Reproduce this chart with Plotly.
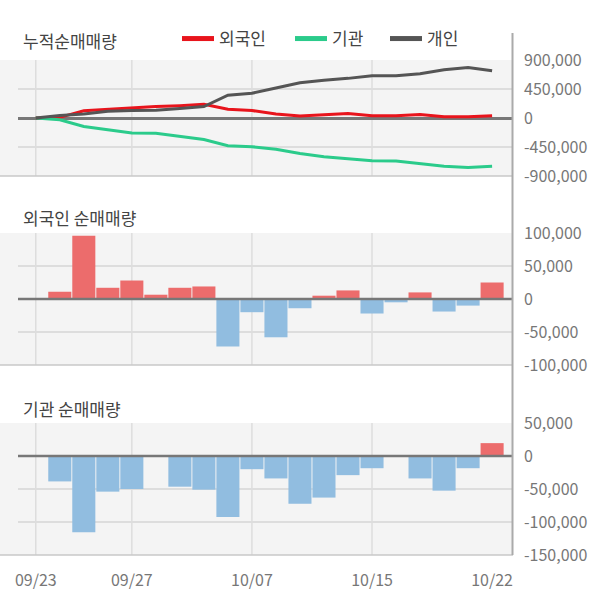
import plotly.graph_objects as go

# ---------------- data ----------------
dates = ['09/23', '09/24', '09/25', '09/26', '09/27', '09/30', '10/01', '10/02', '10/04', '10/07',
         '10/08', '10/10', '10/11', '10/14', '10/15', '10/16', '10/17', '10/18', '10/21', '10/22']

cum_foreign = [0, 10000, 111000, 136000, 162000, 177000, 192000, 212000, 136000, 116000,
               61000, 30000, 50000, 71000, 35000, 35000, 56000, 20000, 20000, 35000]
cum_inst = [0, -28000, -131000, -187000, -233000, -238000, -283000, -334000, -430000, -445000,
            -485000, -551000, -602000, -637000, -662000, -667000, -708000, -748000, -768000, -748000]
cum_indiv = [0, 40000, 61000, 106000, 116000, 121000, 147000, 177000, 354000, 384000,
             465000, 546000, 585000, 615000, 657000, 657000, 688000, 748000, 784000, 733000]

foreign_net = [0, 11000, 96000, 17000, 28000, 6500, 17000, 19000, -72000, -20000,
               -58000, -14000, 5000, 13000, -22000, -5000, 10000, -19000, -10000, 25000]
inst_net = [0, -38500, -115500, -54000, -50000, 0, -46500, -51000, -92500, -20000,
            -34000, -72500, -63000, -29000, -18500, 0, -34000, -52500, -18500, 19500]

series_names = ['외국인', '기관', '개인']
titles = ['누적순매매량', '외국인 순매매량', '기관 순매매량']

x_tick_labels = ['09/23', '09/27', '10/07', '10/15', '10/22']
x_grid_dates = ['09/23', '09/27', '10/07', '10/15']

y1_ticks = [-900000, -450000, 0, 450000, 900000]
y1_text = ['-900,000', '-450,000', '0', '450,000', '900,000']
y2_ticks = [-100000, -50000, 0, 50000, 100000]
y2_text = ['-100,000', '-50,000', '0', '50,000', '100,000']
y3_ticks = [-150000, -100000, -50000, 0, 50000]
y3_text = ['-150,000', '-100,000', '-50,000', '0', '50,000']

# ---------------- styles ----------------
FONT = 'Noto Sans CJK KR'
RED = '#e8141c'
GREEN = '#2bcb8b'
DARK = '#555555'
BAR_POS = '#ec6c6c'
BAR_NEG = '#91bde0'
BG = '#f4f4f4'
GRID = '#dddddd'
H = 604.0
W = 600.0

def py(p):
    return 1 - p / H

dom1 = [py(176), py(60)]
dom2 = [py(365), py(233)]
dom3 = [py(555), py(423)]
xdom = [18 / W, 513 / W]
xrange = [-0.74, 19.87]

fig = go.Figure()

line_colors = [RED, GREEN, DARK]
legend_ids = ['legend', 'legend2', 'legend3']
legend_x = [177, 290, 385]

for name, vals, col in zip(series_names, [cum_foreign, cum_inst, cum_indiv], line_colors):
    fig.add_trace(go.Scatter(x=dates, y=vals, mode='lines', name=name,
                             line=dict(color=col, width=3), showlegend=False,
                             xaxis='x', yaxis='y'))
# legend entries (thicker swatches)
for name, col, lg in zip(series_names, line_colors, legend_ids):
    fig.add_trace(go.Scatter(x=[None], y=[None], mode='lines', name=name,
                             line=dict(color=col, width=5), showlegend=True, legend=lg,
                             xaxis='x', yaxis='y'))

fig.add_trace(go.Bar(x=dates, y=foreign_net, xaxis='x2', yaxis='y2', showlegend=False,
                     marker=dict(color=[BAR_POS if v >= 0 else BAR_NEG for v in foreign_net],
                                 line=dict(width=0))))
fig.add_trace(go.Bar(x=dates, y=inst_net, xaxis='x3', yaxis='y3', showlegend=False,
                     marker=dict(color=[BAR_POS if v >= 0 else BAR_NEG for v in inst_net],
                                 line=dict(width=0))))

def xaxis_cfg(anchor, show_labels):
    d = dict(domain=xdom, anchor=anchor, type='category', categoryorder='array',
             categoryarray=dates, range=xrange, showgrid=False, zeroline=False,
             showline=False, ticks='', fixedrange=True, automargin=False)
    if show_labels:
        d.update(tickmode='array', tickvals=x_tick_labels, ticktext=x_tick_labels,
                 tickfont=dict(family=FONT, size=16, color='#777777'),
                 ticklabelstandoff=14, showticklabels=True)
    else:
        d.update(showticklabels=False)
    return d

def yaxis_cfg(anchor, dom, rng, tv, tt, zl):
    return dict(domain=dom, anchor=anchor, side='right', range=rng,
                tickmode='array', tickvals=tv, ticktext=tt,
                tickfont=dict(family=FONT, size=16, color='#777777'),
                showgrid=True, gridcolor=GRID, gridwidth=1.5,
                zeroline=zl, zerolinecolor='#777777', zerolinewidth=2.5,
                showline=False, ticks='', ticklabelstandoff=10, fixedrange=True,
                automargin=False)

shapes = []
for dom, xr, yr in [(dom1, 'x', 'y'), (dom2, 'x2', 'y2'), (dom3, 'x3', 'y3')]:
    shapes.append(dict(type='rect', xref='paper', yref='paper', x0=0, x1=xdom[0],
                       y0=dom[0], y1=dom[1], fillcolor=BG, line=dict(width=0), layer='below'))
    for d in x_grid_dates:
        shapes.append(dict(type='line', xref=xr, yref=yr + ' domain', x0=d, x1=d, y0=0, y1=1,
                           line=dict(color=GRID, width=1.5), layer='below'))
    shapes.append(dict(type='line', xref='paper', yref='paper', x0=0, x1=xdom[1],
                       y0=dom[0], y1=dom[0], line=dict(color='#c8c8c8', width=1.5), layer='above'))
# zero lines over bars
for xr, yr in [('x2', 'y2'), ('x3', 'y3')]:
    shapes.append(dict(type='line', xref=xr + ' domain', yref=yr, x0=0, x1=1, y0=0, y1=0,
                       line=dict(color='#777777', width=2.5), layer='above'))
# right axis line
shapes.append(dict(type='line', xref='paper', yref='paper', x0=512.5 / W, x1=512.5 / W,
                   y0=py(555), y1=py(33), line=dict(color='#aaaaaa', width=2), layer='above'))

annotations = []
for t, yc in zip(titles, [40, 217, 408]):
    annotations.append(dict(text=t, xref='paper', yref='paper', x=21 / W, y=py(yc),
                            xanchor='left', yanchor='middle', showarrow=False,
                            font=dict(family=FONT, size=17, color='#444444')))

legend_common = dict(orientation='h', y=py(39), xanchor='left', yanchor='middle',
                     font=dict(family=FONT, size=17, color='#444444'),
                     bgcolor='rgba(0,0,0,0)', itemwidth=32)

fig.update_layout(
    width=600, height=604,
    margin=dict(l=0, r=0, t=0, b=0, autoexpand=False),
    paper_bgcolor='white', plot_bgcolor=BG,
    bargap=0.04,
    font=dict(family=FONT),
    xaxis=xaxis_cfg('y', False),
    xaxis2=xaxis_cfg('y2', False),
    xaxis3=xaxis_cfg('y3', True),
    yaxis=yaxis_cfg('x', dom1, [-900000, 900000], y1_ticks, y1_text, True),
    yaxis2=yaxis_cfg('x2', dom2, [-100000, 100000], y2_ticks, y2_text, False),
    yaxis3=yaxis_cfg('x3', dom3, [-150000, 50000], y3_ticks, y3_text, False),
    shapes=shapes,
    annotations=annotations,
    legend=dict(x=legend_x[0] / W, **legend_common),
    legend2=dict(x=legend_x[1] / W, **legend_common),
    legend3=dict(x=legend_x[2] / W, **legend_common),
)

fig.write_html('out.html')
